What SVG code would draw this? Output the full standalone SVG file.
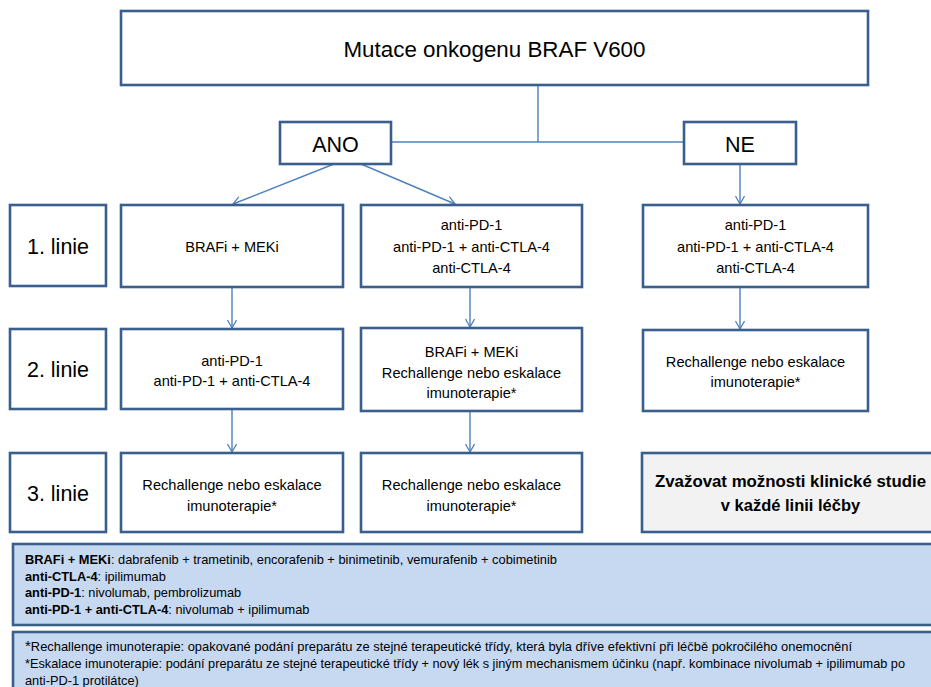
<svg xmlns="http://www.w3.org/2000/svg" width="931" height="687" viewBox="0 0 931 687">
<defs>
<marker id="arr" markerWidth="12" markerHeight="12" refX="9" refY="5" orient="auto" markerUnits="userSpaceOnUse">
<path d="M1,0.5 L9,5 L1,9.5" fill="none" stroke="#4f81bd" stroke-width="1.3"/>
</marker>
<style>
.box{fill:#ffffff;stroke:#3b5f8c;stroke-width:2.6}
.grey{fill:#f2f2f2;stroke:#3b5f8c;stroke-width:2.6}
.leg{fill:#c6d9f1;stroke:#3b5f8c;stroke-width:2.6}
.conn{fill:none;stroke:#4f81bd;stroke-width:1.4}
text{font-family:"Liberation Sans",Arial,sans-serif;fill:#000000}
.big{font-size:21.5px;text-anchor:middle}
.mid{font-size:14.6px;text-anchor:middle}
.bold{font-size:16.5px;font-weight:bold;text-anchor:middle}
.small{font-size:12.8px}
.b{font-weight:bold}
</style>
</defs>
<rect width="931" height="687" fill="#ffffff"/>

<g id="connectors">
<path class="conn" d="M538,85 V142 M391,142 H684"/>
<path class="conn" d="M334,164 L233,204" marker-end="url(#arr)"/>
<path class="conn" d="M361,164 L455,204" marker-end="url(#arr)"/>
<path class="conn" d="M740,164 V204" marker-end="url(#arr)"/>
<path class="conn" d="M232,287 V328" marker-end="url(#arr)"/>
<path class="conn" d="M470,287 V327" marker-end="url(#arr)"/>
<path class="conn" d="M740,287 V329" marker-end="url(#arr)"/>
<path class="conn" d="M232,409 V452" marker-end="url(#arr)"/>
<path class="conn" d="M470,411 V452" marker-end="url(#arr)"/>
</g>

<g id="root">
<rect class="box" x="121" y="11" width="747" height="74"/>
<text class="big" x="494.5" y="57" textLength="302" lengthAdjust="spacingAndGlyphs">Mutace onkogenu BRAF V600</text>
</g>

<g id="ano">
<rect class="box" x="280" y="122" width="111" height="42"/>
<text class="big" x="335.5" y="152">ANO</text>
</g>

<g id="ne">
<rect class="box" x="684" y="122" width="112" height="42"/>
<text class="big" x="740" y="152">NE</text>
</g>

<g id="label1">
<rect class="box" x="10" y="205" width="96" height="81"/>
<text class="big" x="58" y="254">1. linie</text>
</g>
<g id="label2">
<rect class="box" x="10" y="329" width="96" height="80"/>
<text class="big" x="58" y="377">2. linie</text>
</g>
<g id="label3">
<rect class="box" x="10" y="453" width="96" height="79"/>
<text class="big" x="58" y="501">3. linie</text>
</g>

<g id="r1a">
<rect class="box" x="121" y="205" width="222" height="82"/>
<text class="mid" x="232" y="252">BRAFi + MEKi</text>
</g>
<g id="r1b">
<rect class="box" x="361" y="205" width="221" height="82"/>
<text class="mid" x="471.5" y="230">anti-PD-1</text>
<text class="mid" x="471.5" y="251.5">anti-PD-1 + anti-CTLA-4</text>
<text class="mid" x="471.5" y="272.5">anti-CTLA-4</text>
</g>
<g id="r1c">
<rect class="box" x="643" y="205" width="225" height="82"/>
<text class="mid" x="755.5" y="230">anti-PD-1</text>
<text class="mid" x="755.5" y="251.5">anti-PD-1 + anti-CTLA-4</text>
<text class="mid" x="755.5" y="272.5">anti-CTLA-4</text>
</g>

<g id="r2a">
<rect class="box" x="121" y="329" width="222" height="80"/>
<text class="mid" x="232" y="366">anti-PD-1</text>
<text class="mid" x="232" y="386">anti-PD-1 + anti-CTLA-4</text>
</g>
<g id="r2b">
<rect class="box" x="361" y="328" width="221" height="83"/>
<text class="mid" x="471.5" y="357">BRAFi + MEKi</text>
<text class="mid" x="471.5" y="378">Rechallenge nebo eskalace</text>
<text class="mid" x="471.5" y="398">imunoterapie*</text>
</g>
<g id="r2c">
<rect class="box" x="643" y="330" width="225" height="81"/>
<text class="mid" x="755.5" y="367">Rechallenge nebo eskalace</text>
<text class="mid" x="755.5" y="387">imunoterapie*</text>
</g>

<g id="r3a">
<rect class="box" x="121" y="453" width="222" height="79"/>
<text class="mid" x="232" y="490">Rechallenge nebo eskalace</text>
<text class="mid" x="232" y="511">imunoterapie*</text>
</g>
<g id="r3b">
<rect class="box" x="361" y="453" width="221" height="79"/>
<text class="mid" x="471.5" y="490">Rechallenge nebo eskalace</text>
<text class="mid" x="471.5" y="511">imunoterapie*</text>
</g>
<g id="r3c">
<rect class="grey" x="642" y="453" width="300" height="79"/>
<text class="bold" x="790.5" y="487" textLength="271" lengthAdjust="spacingAndGlyphs">Zvažovat možnosti klinické studie</text>
<text class="bold" x="790.5" y="511">v každé linii léčby</text>
</g>

<g id="legend1">
<rect class="leg" x="13" y="544" width="930" height="81"/>
<text class="small" x="25" y="564" textLength="532" lengthAdjust="spacingAndGlyphs"><tspan class="b">BRAFi + MEKi</tspan>: dabrafenib + trametinib, encorafenib + binimetinib, vemurafenib + cobimetinib</text>
<text class="small" x="25" y="580.5"><tspan class="b">anti-CTLA-4</tspan>: ipilimumab</text>
<text class="small" x="25" y="597"><tspan class="b">anti-PD-1</tspan>: nivolumab, pembrolizumab</text>
<text class="small" x="25" y="613.5"><tspan class="b">anti-PD-1 + anti-CTLA-4</tspan>: nivolumab + ipilimumab</text>
</g>

<g id="legend2">
<rect class="leg" x="13" y="632" width="930" height="70"/>
<text class="small" x="25" y="651" textLength="827" lengthAdjust="spacingAndGlyphs"><tspan font-size="15">*</tspan>Rechallenge imunoterapie: opakované podání preparátu ze stejné terapeutické třídy, která byla dříve efektivní při léčbě pokročilého onemocnění</text>
<text class="small" x="25" y="668" textLength="880" lengthAdjust="spacingAndGlyphs">*Eskalace imunoterapie: podání preparátu ze stejné terapeutické třídy + nový lék s jiným mechanismem účinku (např. kombinace nivolumab + ipilimumab po</text>
<text class="small" x="25" y="685">anti-PD-1 protilátce)</text>
</g>
</svg>
